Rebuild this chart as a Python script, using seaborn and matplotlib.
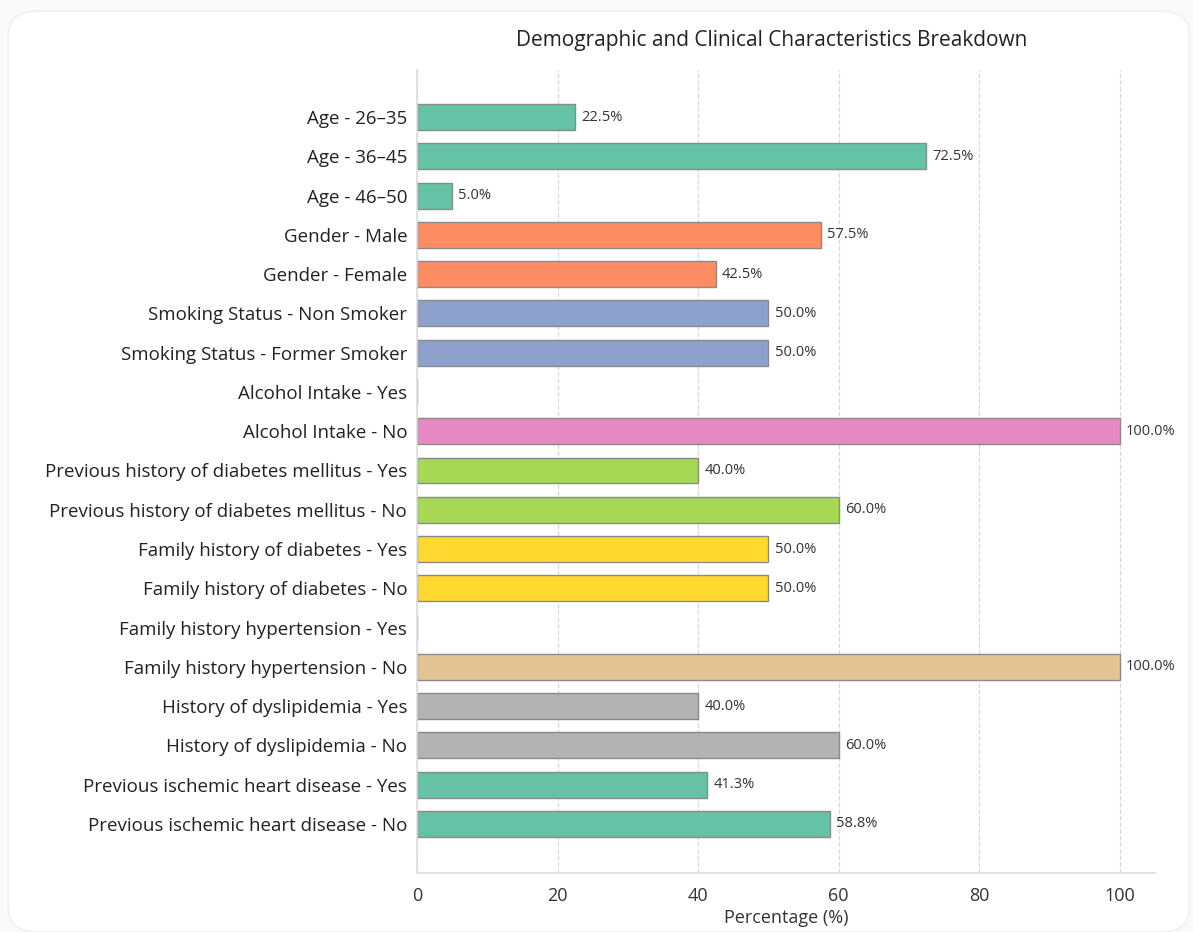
import matplotlib
matplotlib.use("Agg")
import matplotlib.pyplot as plt
from matplotlib.patches import FancyBboxPatch
import seaborn as sns
import pandas as pd

# -------------------------------
# DATA
# -------------------------------

categories = [
    "Age - 26\u201335",
    "Age - 36\u201345",
    "Age - 46\u201350",
    "Gender - Male",
    "Gender - Female",
    "Smoking Status - Non Smoker",
    "Smoking Status - Former Smoker",
    "Alcohol Intake - Yes",
    "Alcohol Intake - No",
    "Previous history of diabetes mellitus - Yes",
    "Previous history of diabetes mellitus - No",
    "Family history of diabetes - Yes",
    "Family history of diabetes - No",
    "Family history hypertension - Yes",
    "Family history hypertension - No",
    "History of dyslipidemia - Yes",
    "History of dyslipidemia - No",
    "Previous ischemic heart disease - Yes",
    "Previous ischemic heart disease - No",
]

percentages = [22.5, 72.5, 5.0, 57.5, 42.5, 50.0, 50.0, 0.0, 100.0, 40.0,
               60.0, 50.0, 50.0, 0.0, 100.0, 40.0, 60.0, 41.3, 58.8]

groups = ["Age", "Age", "Age", "Gender", "Gender", "Smoking", "Smoking",
          "Alcohol", "Alcohol", "Diabetes", "Diabetes", "FamDiabetes",
          "FamDiabetes", "FamHypertension", "FamHypertension",
          "Dyslipidemia", "Dyslipidemia", "Ischemic", "Ischemic"]

group_colors = {
    "Age": "#66c2a5",
    "Gender": "#fc8d62",
    "Smoking": "#8da0cb",
    "Alcohol": "#e78ac3",
    "Diabetes": "#a6d854",
    "FamDiabetes": "#ffd92f",
    "FamHypertension": "#e5c494",
    "Dyslipidemia": "#b3b3b3",
    "Ischemic": "#66c2a5",
}

df = pd.DataFrame({"Category": categories, "Percentage": percentages})
bar_colors = [group_colors[g] for g in groups]

# -------------------------------
# STYLE
# -------------------------------

sns.set_style("white")
plt.rcParams["font.family"] = ["Open Sans", "DejaVu Sans"]

fig = plt.figure(figsize=(11.93, 9.32), dpi=100)
fig.patch.set_facecolor("#fafafa")

# card background
card = FancyBboxPatch((0.007, 0.0), 0.99, 0.988,
                      boxstyle="round,pad=0,rounding_size=0.025",
                      transform=fig.transFigure, facecolor="white",
                      edgecolor="#f0f0f0", linewidth=1.2, zorder=-1)
fig.patches.append(card)

ax = fig.add_axes([0.3495, 0.0633, 0.6185, 0.8617])

sns.barplot(
    data=df,
    y="Category",
    x="Percentage",
    hue="Category",
    palette=bar_colors,
    saturation=1,
    legend=False,
    orient="h",
    width=0.66,
    edgecolor="#8a8a8a",
    linewidth=1.0,
    ax=ax,
)

# value labels
for i, v in enumerate(percentages):
    if v > 0:
        ax.text(v + 0.9, i, f"{v:.1f}%", va="center", ha="left",
                fontsize=10.5, color="#333333")

ax.set_xlim(0, 105)
ax.set_ylim(len(categories) - 1 + 1.25, -1.2)
ax.set_xticks([0, 20, 40, 60, 80, 100])

ax.grid(axis="x", linestyle="--", color="#d9d9d9", linewidth=0.9)
ax.set_axisbelow(True)

for side in ["top", "right"]:
    ax.spines[side].set_visible(False)
for side in ["left", "bottom"]:
    ax.spines[side].set_color("#dddddd")
    ax.spines[side].set_linewidth(1.2)

ax.tick_params(axis="y", length=4, color="#888888", labelsize=13.5,
               labelcolor="#222222", pad=3)
ax.tick_params(axis="x", length=4, color="#bbbbbb", labelsize=13,
               labelcolor="#333333", pad=6)

ax.set_ylabel("")
ax.set_xlabel("Percentage (%)", fontsize=13, color="#333333", labelpad=3)

fig.text(0.647, 0.957, "Demographic and Clinical Characteristics Breakdown",
         ha="center", va="center", fontsize=15, color="#222222")

fig.savefig("out.png", dpi=100, facecolor=fig.get_facecolor())
